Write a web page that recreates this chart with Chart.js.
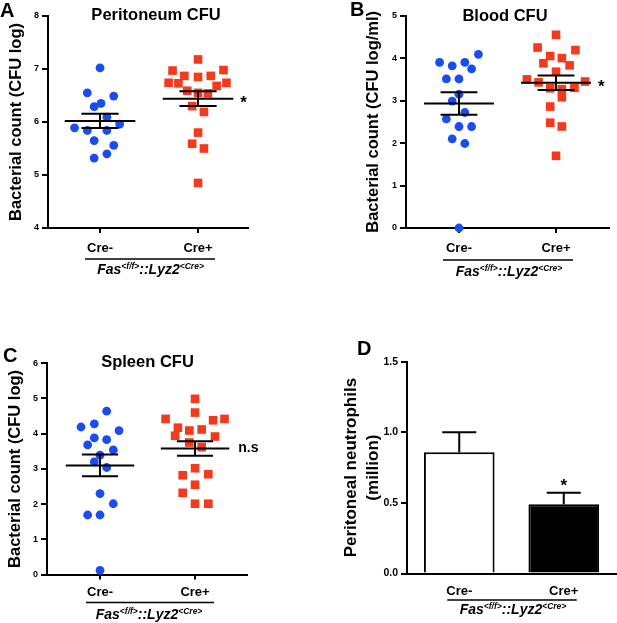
<!DOCTYPE html>
<html>
<head>
<meta charset="utf-8">
<script src="https://cdn.jsdelivr.net/npm/chart.js@4"></script>
<style>
  body { margin: 0; background: #fff; }
  .panel { position: absolute; }
</style>
</head>
<body>
<div class="panel" style="left:0;top:0;width:300px;height:300px"><canvas id="chartA"></canvas></div>
<div class="panel" style="left:300px;top:0;width:317px;height:300px"><canvas id="chartB"></canvas></div>
<div class="panel" style="left:0;top:330px;width:300px;height:293px"><canvas id="chartC"></canvas></div>
<div class="panel" style="left:300px;top:330px;width:317px;height:293px"><canvas id="chartD"></canvas></div>
<script>
// groups on the x axis
const groupTicks = [1, 2];
const groupNames = ['Cre-', 'Cre+'];

// A - peritoneum CFU (log)
const peritoneumNegX = [1.00, 0.87, 1.14, 1.01, 0.94, 1.07, 0.74, 1.20, 0.87, 1.07, 0.94, 1.14, 1.07, 0.94];
const peritoneumNegY = [7.02, 6.55, 6.49, 6.35, 6.29, 6.09, 5.89, 5.96, 5.84, 5.84, 5.65, 5.56, 5.40, 5.32];
const peritoneumPosX = [2.00, 1.74, 2.26, 1.86, 2.00, 2.13, 1.70, 1.80, 2.29, 2.19, 1.89, 2.10, 1.94, 2.06, 2.00, 1.94, 2.06, 2.00, 2.00];
const peritoneumPosY = [7.18, 6.97, 6.98, 6.87, 6.85, 6.87, 6.74, 6.73, 6.74, 6.68, 6.59, 6.54, 6.30, 6.19, 5.80, 5.59, 5.50, 4.85, 6.55];
const peritoneumMean = [6.02, 6.44];
const peritoneumSem = [0.135, 0.14];

// B - blood CFU (log/ml)
const bloodNegX = [0.80, 0.93, 1.06, 1.20, 1.13, 0.87, 1.00, 1.00, 0.93, 1.06, 0.87, 1.00, 1.13, 0.93, 1.06, 1.00];
const bloodNegY = [3.90, 3.82, 3.90, 4.09, 3.75, 3.51, 3.51, 3.15, 2.99, 2.72, 2.57, 2.39, 2.39, 2.10, 1.99, 0.00];
const bloodPosX = [2.00, 1.81, 2.20, 1.94, 2.06, 1.87, 2.14, 2.00, 1.70, 1.82, 2.30, 1.94, 2.06, 2.19, 2.06, 1.94, 1.94, 2.06, 2.00];
const bloodPosY = [4.55, 4.25, 4.19, 4.05, 4.00, 3.88, 3.83, 3.68, 3.50, 3.43, 3.45, 3.29, 3.27, 3.30, 3.08, 2.86, 2.48, 2.39, 1.70];
const bloodMean = [2.93, 3.42];
const bloodSem = [0.265, 0.17];

// C - spleen CFU (log)
const spleenNegX = [1.07, 0.94, 0.80, 1.20, 0.94, 1.07, 0.87, 1.14, 1.00, 0.94, 1.07, 1.00, 1.14, 0.87, 1.00, 1.00];
const spleenNegY = [4.64, 4.28, 4.19, 4.09, 3.88, 3.83, 3.68, 3.54, 3.39, 3.20, 3.04, 2.30, 2.01, 1.69, 1.69, 0.12];
const spleenPosX = [2.00, 2.00, 1.69, 2.31, 2.19, 1.82, 1.94, 2.07, 1.79, 2.21, 1.94, 2.07, 2.00, 1.87, 2.14, 2.00, 1.87, 2.00, 2.14];
const spleenPosY = [4.99, 4.60, 4.42, 4.42, 4.38, 4.17, 4.09, 4.12, 3.94, 3.92, 3.75, 3.62, 3.02, 2.82, 2.85, 2.55, 2.32, 2.01, 2.01];
const spleenMean = [3.10, 3.58];
const spleenSem = [0.31, 0.205];

// D - peritoneal neutrophils (million)
const neutroMean = [0.858, 0.49];
const neutroSem = [0.142, 0.082];

const FAMILY = '"Liberation Sans", Arial, Helvetica, sans-serif';
const BLUE = '#1a4cf0';
const RED = '#f43a1c';
Chart.defaults.font.family = FAMILY;
Chart.defaults.color = '#000';

function points(xs, ys) {
  return ys.map((v, i) => ({ x: xs[i], y: v }));
}

function drawGenotype(ctx, cx, baseline) {
  const big = 'italic bold 14px ' + FAMILY;
  const small = 'italic bold 8.5px ' + FAMILY;
  const parts = [['Fas', big, 0], ['<f/f>', small, -5], ['::Lyz2', big, 0], ['<Cre>', small, -5]];
  let total = 0;
  const widths = parts.map(p => { ctx.font = p[1]; const w = ctx.measureText(p[0]).width; total += w; return w; });
  let x = cx - total / 2;
  ctx.textAlign = 'left';
  ctx.textBaseline = 'alphabetic';
  parts.forEach((p, i) => { ctx.font = p[1]; ctx.fillText(p[0], x, baseline + p[2]); x += widths[i]; });
}

function hline(ctx, x1, x2, y) { ctx.beginPath(); ctx.moveTo(x1, y); ctx.lineTo(x2, y); ctx.stroke(); }
function vline(ctx, x, y1, y2) { ctx.beginPath(); ctx.moveTo(x, y1); ctx.lineTo(x, y2); ctx.stroke(); }

// mean +/- SEM marks, significance notes, panel letter, title and genotype label
const groupMarks = {
  id: 'groupMarks',
  afterDatasetsDraw(chart, args, o) {
    const ctx = chart.ctx, xs = chart.scales.x, ys = chart.scales.y;
    ctx.save();
    ctx.strokeStyle = '#000';
    ctx.fillStyle = '#000';
    ctx.lineWidth = 2;
    if (o.kind === 'scatter') {
      o.means.forEach((m, i) => {
        const c = groupTicks[i];
        const ym = ys.getPixelForValue(m);
        const yHi = ys.getPixelForValue(m + o.sems[i]);
        const yLo = ys.getPixelForValue(m - o.sems[i]);
        const xc = xs.getPixelForValue(c);
        hline(ctx, xs.getPixelForValue(c - 0.36), xs.getPixelForValue(c + 0.36), ym);
        hline(ctx, xs.getPixelForValue(c - 0.19), xs.getPixelForValue(c + 0.19), yHi);
        hline(ctx, xs.getPixelForValue(c - 0.19), xs.getPixelForValue(c + 0.19), yLo);
        vline(ctx, xc, yHi, yLo);
      });
      const yn = ys.getPixelForValue(o.means[1]);
      const xn = xs.getPixelForValue(2.36) + 7;
      ctx.textAlign = 'left';
      ctx.textBaseline = 'alphabetic';
      if (o.note === '*') {
        ctx.font = 'bold 17px ' + FAMILY;
        ctx.fillText('*', xn, yn + 0.57 * 17);
      } else {
        ctx.font = 'bold 14px ' + FAMILY;
        ctx.fillText(o.note, xn + 2, yn + 0.27 * 14);
      }
    } else {
      const bars = chart.getDatasetMeta(0).data;
      bars.forEach((bar, i) => {
        const yTop = ys.getPixelForValue(o.means[i]);
        const yErr = ys.getPixelForValue(o.means[i] + o.sems[i]);
        vline(ctx, bar.x, yTop, yErr);
        hline(ctx, bar.x - 17, bar.x + 17, yErr);
        if (o.notes[i]) {
          ctx.font = 'bold 17px ' + FAMILY;
          ctx.textAlign = 'center';
          ctx.textBaseline = 'alphabetic';
          ctx.fillText(o.notes[i], bar.x, yErr - 11 + 0.57 * 17);
        }
      });
    }
    ctx.restore();
  },
  afterDraw(chart, args, o) {
    const ctx = chart.ctx, xs = chart.scales.x, area = chart.chartArea;
    ctx.save();
    ctx.fillStyle = '#000';
    ctx.strokeStyle = '#000';
    ctx.textBaseline = 'alphabetic';
    ctx.textAlign = 'left';
    ctx.font = 'bold 20px ' + FAMILY;
    ctx.fillText(o.letter, o.letterX, o.letterY);
    if (o.title) {
      ctx.textAlign = 'center';
      ctx.font = 'bold 16.5px ' + FAMILY;
      ctx.fillText(o.title, o.titleX, o.titleY);
    }
    const p1 = xs.getPixelForValue(o.kind === 'scatter' ? 1 : 0);
    const p2 = xs.getPixelForValue(o.kind === 'scatter' ? 2 : 1);
    ctx.lineWidth = 1.5;
    hline(ctx, p1 - o.lineLeft, p2 + o.lineRight, area.bottom + o.lineY);
    drawGenotype(ctx, (p1 + p2) / 2 + 1.5, area.bottom + o.genoY);
    ctx.restore();
  }
};
Chart.register(groupMarks);

const axisGrid = (len) => ({ drawOnChartArea: false, drawTicks: true, tickLength: len, color: '#000', lineWidth: 2 });
const axisBorder = { color: '#000', width: 2 };

function scatterChart(id, negX, negY, posX, posY, yMin, yMax, yTitle, L, marks) {
  return new Chart(document.getElementById(id), {
    type: 'scatter',
    data: {
      datasets: [
        { data: points(negX, negY), pointStyle: 'circle', pointRadius: 4.4, backgroundColor: BLUE, borderWidth: 0, clip: false },
        { data: points(posX, posY), pointStyle: 'rect', pointRadius: 6.1, backgroundColor: RED, borderWidth: 0, clip: false }
      ]
    },
    options: {
      responsive: true,
      maintainAspectRatio: false,
      animation: false,
      events: [],
      layout: { padding: { top: L.top, right: L.right, left: 0, bottom: 0 } },
      plugins: { legend: { display: false }, tooltip: { enabled: false }, groupMarks: marks },
      scales: {
        x: {
          type: 'linear', min: L.xMin, max: L.xMax,
          afterBuildTicks: s => { s.ticks = groupTicks.map(v => ({ value: v })); },
          afterFit: s => { s.height = L.xHeight; },
          ticks: { callback: v => groupNames[groupTicks.indexOf(v)] || '', font: { size: 13, weight: 'bold' }, padding: L.xPad, maxRotation: 0 },
          grid: axisGrid(5),
          border: axisBorder
        },
        y: {
          min: yMin, max: yMax,
          afterFit: s => { s.width = L.yWidth; },
          ticks: { stepSize: 1, font: { size: 9, weight: 'bold' }, padding: 3 },
          grid: axisGrid(6),
          border: axisBorder,
          title: { display: true, text: yTitle, font: { size: 16.5, weight: 'bold' }, padding: { top: L.titlePad, bottom: 0 } }
        }
      }
    }
  });
}

scatterChart('chartA', peritoneumNegX, peritoneumNegY, peritoneumPosX, peritoneumPosY, 4, 8,
  'Bacterial count (CFU log)',
  { top: 16, right: 52, xHeight: 72, yWidth: 48, xMin: 0.469, xMax: 2.51, xPad: 8, titlePad: 7 },
  { kind: 'scatter', means: peritoneumMean, sems: peritoneumSem, note: '*',
    letter: 'A', letterX: 0, letterY: 16.5, title: 'Peritoneum CFU', titleX: 156, titleY: 20,
    lineLeft: 15, lineRight: 17, lineY: 31, genoY: 46 });

scatterChart('chartB', bloodNegX, bloodNegY, bloodPosX, bloodPosY, 0, 5,
  'Bacterial count (CFU log/ml)',
  { top: 15.7, right: 8, xHeight: 72, yWidth: 106, xMin: 0.454, xMax: 2.546, xPad: 8, titlePad: 64 },
  { kind: 'scatter', means: bloodMean, sems: bloodSem, note: '*',
    letter: 'B', letterX: 50, letterY: 15.5, title: 'Blood CFU', titleX: 205, titleY: 20.5,
    lineLeft: 16, lineRight: 17, lineY: 32, genoY: 48 });

scatterChart('chartC', spleenNegX, spleenNegY, spleenPosX, spleenPosY, 0, 6,
  'Bacterial count (CFU log)',
  { top: 33.3, right: 53, xHeight: 48.5, yWidth: 47, xMin: 0.442, xMax: 2.547, xPad: 5.5, titlePad: 5.6 },
  { kind: 'scatter', means: spleenMean, sems: spleenSem, note: 'n.s',
    letter: 'C', letterX: 3, letterY: 31.7, title: 'Spleen CFU', titleX: 147.5, titleY: 37,
    lineLeft: 14, lineRight: 19, lineY: 28, genoY: 44.5 });

new Chart(document.getElementById('chartD'), {
  type: 'bar',
  data: {
    labels: groupNames,
    datasets: [{
      data: neutroMean,
      backgroundColor: ['#ffffff', '#000000'],
      borderColor: '#000',
      borderWidth: 2,
      barPercentage: 0.676,
      categoryPercentage: 1
    }]
  },
  options: {
    responsive: true,
    maintainAspectRatio: false,
    animation: false,
    events: [],
    layout: { padding: { top: 31.7, right: 1, left: 0, bottom: 0 } },
    plugins: {
      legend: { display: false }, tooltip: { enabled: false },
      groupMarks: { kind: 'bar', means: neutroMean, sems: neutroSem, notes: ['', '*'],
        letter: 'D', letterX: 57, letterY: 25,
        lineLeft: 12, lineRight: 13, lineY: 26.5, genoY: 40.5 }
    },
    scales: {
      x: {
        afterFit: s => { s.height = 49.5; },
        ticks: { font: { size: 13, weight: 'bold' }, padding: 9.7, maxRotation: 0 },
        grid: { drawOnChartArea: false, drawTicks: false, color: '#000', lineWidth: 2 },
        border: axisBorder
      },
      y: {
        min: 0, max: 1.5,
        afterFit: s => { s.width = 107; },
        ticks: { stepSize: 0.5, callback: v => v.toFixed(1), font: { size: 10.5, weight: 'bold' }, padding: 3 },
        grid: axisGrid(6),
        border: axisBorder,
        title: { display: true, text: ['Peritoneal neutrophils', '(million)'], font: { size: 17, weight: 'bold', lineHeight: 1.3 }, padding: { top: 40, bottom: 0 } }
      }
    }
  }
});
</script>
</body>
</html>
